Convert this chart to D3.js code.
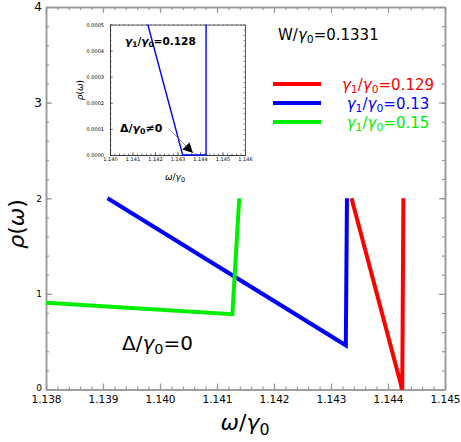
<!DOCTYPE html>
<html>
<head>
<meta charset="utf-8">
<script src="https://cdn.jsdelivr.net/npm/d3@7"></script>
<style>
  body { margin: 0; background: #fff; }
  svg { font-family: "DejaVu Sans", Verdana, sans-serif; }
</style>
</head>
<body>
<div id="chart"></div>
<script>
// main plot data
const xTicks = [1.138, 1.139, 1.140, 1.141, 1.142, 1.143, 1.144, 1.145];
const yTicks = [0, 1, 2, 3, 4];
const redX = [1.14336, 1.14425, 1.14427];
const redY = [2, 0, 2];
const blueX = [1.13908, 1.14326, 1.14328];
const blueY = [2, 0.462, 2];
const greenX = [1.138, 1.14127, 1.14139];
const greenY = [0.908, 0.787, 2];

// inset data (gamma1/gamma0 = 0.128)
const insetXTicks = [1.140, 1.141, 1.142, 1.143, 1.144, 1.145, 1.146];
const insetYTicks = [0, 0.0001, 0.0002, 0.0003, 0.0004, 0.0005];
const insetX = [1.14168, 1.14323, 1.14427, 1.14427];
const insetY = [0.0005, 0, 0, 0.0005];

const legendLabels = ["0.129", "0.13", "0.15"];

const widthSvg = 461, heightSvg = 442;
const margin = {top: 7, right: 16, bottom: 52.5, left: 46};
const width = widthSvg - margin.left - margin.right;
const height = heightSvg - margin.top - margin.bottom;

const svg = d3.select("#chart").append("svg")
    .attr("width", widthSvg)
    .attr("height", heightSvg);

// writes text with italic greek letters and subscripts
function richText(sel, parts, size) {
  let shift = 0;
  parts.forEach(function(p) {
    const t = sel.append("tspan").text(p.t);
    if (p.i) t.attr("font-style", "italic");
    if (p.sub) {
      t.attr("font-size", size * 0.72).attr("dy", size * 0.22 - shift);
      shift = size * 0.22;
    } else if (shift) {
      t.attr("dy", -shift);
      shift = 0;
    }
  });
  return sel;
}

const g = svg.append("g")
    .attr("transform", "translate(" + margin.left + "," + margin.top + ")");

const x = d3.scaleLinear().domain([1.138, 1.145]).range([0, width]);
const y = d3.scaleLinear().domain([0, 4]).range([height, 0]);

const xMinor = d3.range(1.138, 1.14501, 0.0002);
const yMinor = d3.range(0, 4.01, 0.2);

function styleAxis(a) {
  a.select(".domain").attr("stroke", "#999").attr("stroke-width", 1.5);
  a.selectAll(".tick line").attr("stroke", "#999").attr("stroke-width", 1.2);
  a.selectAll("text").attr("fill", "#000");
}

// frame: bottom, top, left, right with inward ticks
g.append("g").attr("transform", "translate(0," + height + ")")
    .call(d3.axisBottom(x).tickValues(xMinor).tickSize(-3).tickSizeOuter(0).tickFormat(""))
    .call(styleAxis);
g.append("g").attr("transform", "translate(0," + height + ")")
    .call(d3.axisBottom(x).tickValues(xTicks).tickSize(-6).tickSizeOuter(0).tickPadding(6).tickFormat(d3.format(".3f")))
    .call(styleAxis)
    .selectAll("text").attr("font-size", 10.5).attr("font-family", "DejaVu Sans");
g.append("g")
    .call(d3.axisTop(x).tickValues(xMinor).tickSize(-3).tickSizeOuter(0).tickFormat(""))
    .call(styleAxis);
g.append("g")
    .call(d3.axisTop(x).tickValues(xTicks).tickSize(-6).tickSizeOuter(0).tickFormat(""))
    .call(styleAxis);

g.append("g")
    .call(d3.axisLeft(y).tickValues(yMinor).tickSize(-3).tickSizeOuter(0).tickFormat(""))
    .call(styleAxis);
g.append("g")
    .call(d3.axisLeft(y).tickValues(yTicks).tickSize(-6).tickSizeOuter(0).tickPadding(4).tickFormat(d3.format("d")))
    .call(styleAxis)
    .selectAll("text")
    .attr("font-family", "DejaVu Sans")
    .attr("font-size", function(d) { return d >= 3 ? 12 : 9; })
    .attr("dy", function(d) { return d === 0 ? "0.1em" : "0.32em"; });
g.append("g").attr("transform", "translate(" + width + ",0)")
    .call(d3.axisRight(y).tickValues(yMinor).tickSize(-3).tickSizeOuter(0).tickFormat(""))
    .call(styleAxis);
g.append("g").attr("transform", "translate(" + width + ",0)")
    .call(d3.axisRight(y).tickValues(yTicks).tickSize(-6).tickSizeOuter(0).tickFormat(""))
    .call(styleAxis);

// curves
const series = [
  {xs: redX, ys: redY, color: "#ff0000"},
  {xs: blueX, ys: blueY, color: "#0000ff"},
  {xs: greenX, ys: greenY, color: "#00ee00"}
];
const line = d3.line()
    .x(function(d) { return x(d[0]); })
    .y(function(d) { return y(d[1]); });

g.selectAll(".curve")
  .data(series)
  .enter().append("path")
    .attr("class", "curve")
    .attr("fill", "none")
    .attr("stroke", function(d) { return d.color; })
    .attr("stroke-width", 4)
    .attr("stroke-linejoin", "miter")
    .attr("d", function(d) { return line(d3.zip(d.xs, d.ys)); });

// axis titles
richText(svg.append("text")
    .attr("x", 245).attr("y", 430)
    .attr("text-anchor", "middle")
    .attr("font-size", 22),
  [{t: "ω", i: true}, {t: "/"}, {t: "γ", i: true}, {t: "0", sub: true}], 22);

svg.append("text")
    .attr("transform", "translate(24,224) rotate(-90)")
    .attr("text-anchor", "middle")
    .attr("font-size", 22)
    .html('<tspan font-style="italic">ρ</tspan>(<tspan font-style="italic">ω</tspan>)');

// annotations
richText(svg.append("text").attr("x", 278).attr("y", 40).attr("font-size", 15),
  [{t: "W/"}, {t: "γ", i: true}, {t: "0", sub: true}, {t: "=0.1331"}], 15);

richText(svg.append("text").attr("x", 122).attr("y", 350).attr("font-size", 20),
  [{t: "Δ/"}, {t: "γ", i: true}, {t: "0", sub: true}, {t: "=0"}], 20);

// legend
const legend = svg.append("g");
series.forEach(function(s, i) {
  const ly = 84 + i * 19;
  legend.append("line")
      .attr("x1", 273).attr("x2", 321)
      .attr("y1", ly).attr("y2", ly)
      .attr("stroke", s.color).attr("stroke-width", 4);
  richText(legend.append("text")
      .attr("x", 388).attr("y", ly + 6)
      .attr("text-anchor", "middle")
      .attr("font-size", 15)
      .attr("fill", s.color),
    [{t: "γ", i: true}, {t: "1", sub: true}, {t: "/"}, {t: "γ", i: true}, {t: "0", sub: true}, {t: "=" + legendLabels[i]}], 15);
});

// inset
const inset = {left: 110, top: 24.5, width: 135, height: 130.5};
const gi = svg.append("g")
    .attr("transform", "translate(" + inset.left + "," + inset.top + ")");
gi.append("rect")
    .attr("width", inset.width).attr("height", inset.height)
    .attr("fill", "#fff");

const xi = d3.scaleLinear().domain([1.140, 1.146]).range([0, inset.width]);
const yi = d3.scaleLinear().domain([0, 0.0005]).range([inset.height, 0]);
const xiMinor = d3.range(1.140, 1.14601, 0.0002);
const yiMinor = d3.range(0, 0.000501, 0.00002);

function styleInset(a) {
  a.select(".domain").attr("stroke", "#333").attr("stroke-width", 0.8);
  a.selectAll(".tick line").attr("stroke", "#333").attr("stroke-width", 0.6);
  a.selectAll("text").attr("fill", "#000").attr("font-size", 5).attr("font-family", "DejaVu Sans");
}

gi.append("g").attr("transform", "translate(0," + inset.height + ")")
    .call(d3.axisBottom(xi).tickValues(xiMinor).tickSize(-1.5).tickSizeOuter(0).tickFormat(""))
    .call(styleInset);
gi.append("g").attr("transform", "translate(0," + inset.height + ")")
    .call(d3.axisBottom(xi).tickValues(insetXTicks).tickSize(-3).tickSizeOuter(0).tickPadding(2.5).tickFormat(d3.format(".3f")))
    .call(styleInset);
gi.append("g")
    .call(d3.axisTop(xi).tickValues(xiMinor).tickSize(-1.5).tickSizeOuter(0).tickFormat(""))
    .call(styleInset);
gi.append("g")
    .call(d3.axisLeft(yi).tickValues(yiMinor).tickSize(-1.5).tickSizeOuter(0).tickFormat(""))
    .call(styleInset);
gi.append("g")
    .call(d3.axisLeft(yi).tickValues(insetYTicks).tickSize(-3).tickSizeOuter(0).tickPadding(6).tickFormat(d3.format(".4f")))
    .call(styleInset);
gi.append("g").attr("transform", "translate(" + inset.width + ",0)")
    .call(d3.axisRight(yi).tickValues(yiMinor).tickSize(-1.5).tickSizeOuter(0).tickFormat(""))
    .call(styleInset);

gi.append("path")
    .attr("fill", "none")
    .attr("stroke", "#0000ff")
    .attr("stroke-width", 1.4)
    .attr("d", d3.line()
      .x(function(d) { return xi(d[0]); })
      .y(function(d) { return yi(d[1]); })(d3.zip(insetX, insetY)));

// inset titles
richText(svg.append("text").attr("x", 175).attr("y", 180)
    .attr("text-anchor", "middle").attr("font-size", 9),
  [{t: "ω", i: true}, {t: "/"}, {t: "γ", i: true}, {t: "0", sub: true}], 9);
svg.append("text")
    .attr("transform", "translate(83,90) rotate(-90)")
    .attr("text-anchor", "middle")
    .attr("font-size", 9)
    .html('<tspan font-style="italic">ρ</tspan>(<tspan font-style="italic">ω</tspan>)');

// inset annotations
richText(svg.append("text").attr("x", 125).attr("y", 45)
    .attr("font-size", 10.5).attr("font-weight", "bold"),
  [{t: "γ", i: true}, {t: "1", sub: true}, {t: "/"}, {t: "γ", i: true}, {t: "0", sub: true}, {t: "=0.128"}], 10.5);
richText(svg.append("text").attr("x", 120).attr("y", 132)
    .attr("font-size", 11).attr("font-weight", "bold"),
  [{t: "Δ/"}, {t: "γ", i: true}, {t: "0", sub: true}, {t: "≠0"}], 11);

svg.append("defs").append("marker")
    .attr("id", "arrow")
    .attr("viewBox", "0 0 10 10")
    .attr("refX", 10).attr("refY", 5)
    .attr("markerWidth", 14).attr("markerHeight", 10)
    .attr("markerUnits", "userSpaceOnUse")
    .attr("orient", "auto")
  .append("path")
    .attr("d", "M0,0 L10,5 L0,10 Z")
    .attr("fill", "#000");
svg.append("line")
    .attr("x1", 170).attr("y1", 130)
    .attr("x2", 193).attr("y2", 153)
    .attr("stroke", "#777").attr("stroke-width", 0.8)
    .attr("marker-end", "url(#arrow)");
</script>
</body>
</html>
